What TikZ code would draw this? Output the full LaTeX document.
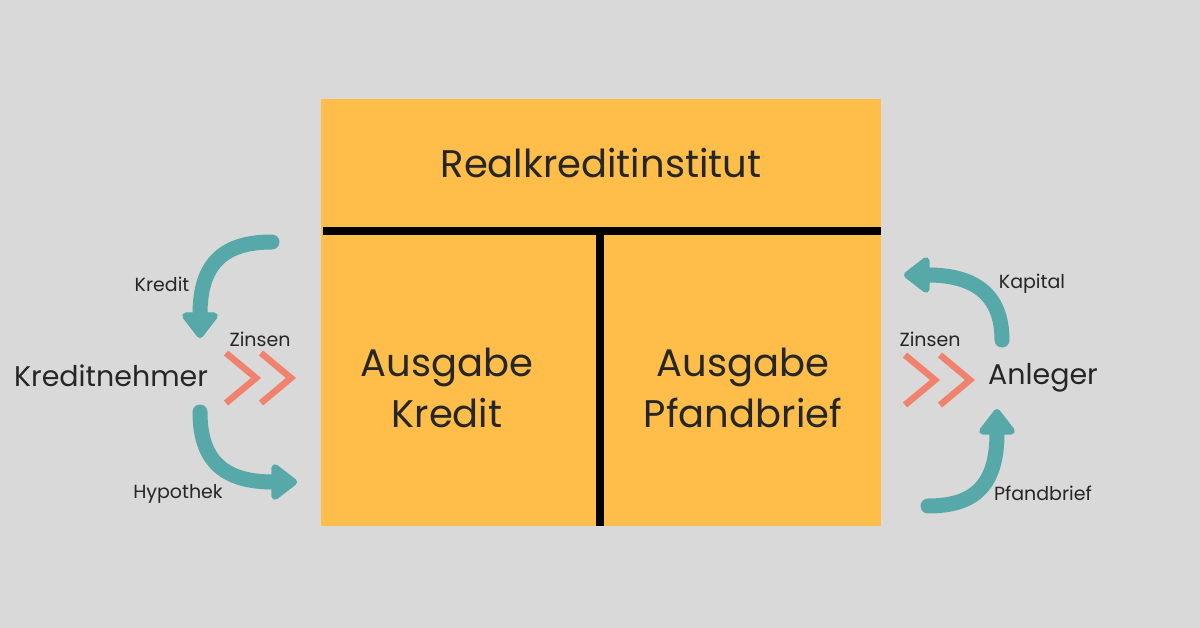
\documentclass[tikz,border=0pt]{standalone}
\usepackage{fontspec}
\setmainfont{Poppins}
\usepackage{xcolor}
\usepackage{tikz}
\usetikzlibrary{
  arrows.meta,
  positioning
}
\definecolor{rkgrey}   {HTML}{D9D9D9}
\definecolor{rkorange} {HTML}{FFBD4A}
\definecolor{rkteal}   {HTML}{56A8A9}
\definecolor{rksalmon} {HTML}{F1836E}
\definecolor{rktext}   {HTML}{262626}

\begin{document}
\begin{tikzpicture}[
  x=1pt, y=-1pt,
  every node/.style={text=rktext, inner sep=0pt},
  big/.style={font=\fontsize{38.5}{51}\selectfont, align=center},
  party/.style={font=\fontsize{28.5}{32}\selectfont},
  lbl/.style={font=\fontsize{19}{22}\selectfont},
  divider/.style={line width=8pt, black},
  flow/.style={rkteal, line width=15pt, line cap=round,
    -{Triangle[length=28pt, width=41pt, round]}},
  chevron/.style={rksalmon, line width=6.5pt}
]

% Background
\fill[rkgrey] (0,0) rectangle (1200,628);
\useasboundingbox (0,0) rectangle (1200,628);

% Institut
\fill[rkorange] (321,99) rectangle (881,526);
\draw[divider] (323,231) -- (881,231);
\draw[divider] (600,231) -- (600,526);
\node[big] (institut) at (601,163) {Realkreditinstitut};
\node[big] (kredit) at (447,388) {Ausgabe\\Kredit};
\node[big] (pfandbrief) at (743,388) {Ausgabe\\Pfandbrief};

% Parties
\node[party] (nehmer) at (111,376) {Kreditnehmer};
\node[party] (anleger) at (1043,378) {Anleger};

% Flow ends
\coordinate (kreditA) at (272,242);
\coordinate (kreditB) at (200,338);
\coordinate (hypoA) at (200,412);
\coordinate (hypoB) at (297,482);
\coordinate (kapitalA) at (1002,340);
\coordinate (kapitalB) at (904,275);
\coordinate (pfandA) at (928,506);
\coordinate (pfandB) at (997,409);

% Arrows
\draw[flow] (kreditA) .. controls (225,242) and (200,262) .. (kreditB);
\draw[flow] (hypoA) .. controls (200,462) and (225,482) .. (hypoB);
\draw[flow] (kapitalA) .. controls (1002,295) and (975,275) .. (kapitalB);
\draw[flow] (pfandA) .. controls (975,506) and (997,485) .. (pfandB);

% Zinsen
\draw[chevron] (226,353) -- (256,378) -- (226,403);
\draw[chevron] (261,353) -- (291,378) -- (261,403);
\draw[chevron] (905,355) -- (935,380) -- (905,405);
\draw[chevron] (940,355) -- (970,380) -- (940,405);

% Labels
\node[lbl] (lkredit) at (162,284) {Kredit};
\node[lbl] (lzinsL) at (260,339) {Zinsen};
\node[lbl] (lhypo) at (178,494) {Hypothek};
\node[lbl] (lkapital) at (1032,284) {Kapital};
\node[lbl] (lzinsR) at (930,339) {Zinsen};
\node[lbl] (lpfand) at (1043,493) {Pfandbrief};

\end{tikzpicture}
\end{document}
